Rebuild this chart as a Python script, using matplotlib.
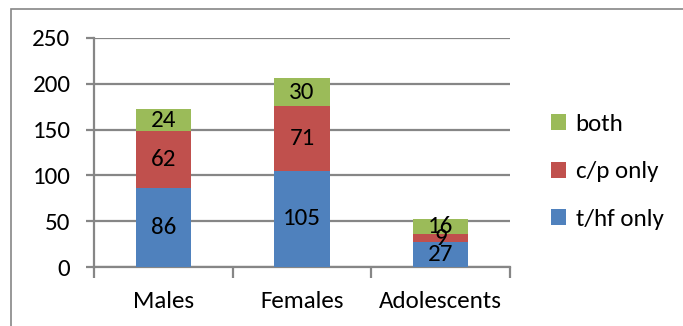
import matplotlib
matplotlib.use("Agg")
import matplotlib.pyplot as plt
from matplotlib.font_manager import fontManager
import numpy as np

categories = ["Males", "Females", "Adolescents"]
series_names = ["t/hf only", "c/p only", "both"]
thf_only = [86, 105, 27]
cp_only = [62, 71, 9]
both = [24, 30, 16]
y_ticks = [0, 50, 100, 150, 200, 250]

colors = ["#4F81BD", "#C0504D", "#9BBB59"]
grid_color = "#868686"
fs = 18

names = {f.name for f in fontManager.ttflist}
family = [f for f in ["Carlito", "Liberation Sans Narrow", "Liberation Sans", "DejaVu Sans"] if f in names]
plt.rcParams["font.family"] = family

W, H = 683, 326
fig = plt.figure(figsize=(W / 100, H / 100), dpi=100)
ax = fig.add_axes([94 / W, 1 - 267 / H, (510 - 94) / W, (267 - 38) / H])

x = np.arange(len(categories))
bottom = np.zeros(len(categories))
for vals, name, col in zip([thf_only, cp_only, both], series_names, colors):
    vals = np.array(vals, dtype=float)
    ax.bar(x, vals, width=0.4, bottom=bottom, color=col, label=name, zorder=3)
    for xi, b, v in zip(x, bottom, vals):
        ax.text(xi, b + v / 2, f"{int(v)}", ha="center", va="center",
                fontsize=fs, color="black", zorder=4)
    bottom += vals

ax.set_xlim(-0.5, len(categories) - 0.5)
ax.set_ylim(0, 250)
ax.set_yticks(y_ticks)
ax.yaxis.grid(True, color=grid_color, linewidth=1.6, zorder=0)
for s in ["top", "right"]:
    ax.spines[s].set_visible(False)
for s in ["left", "bottom"]:
    ax.spines[s].set_color(grid_color)
    ax.spines[s].set_linewidth(1.6)
ax.tick_params(axis="y", length=6, width=1.6, color=grid_color, labelsize=fs, pad=11)
ax.set_xticks(x)
ax.set_xticklabels(categories, fontsize=fs)
ax.tick_params(axis="x", length=0, pad=17)
ax.set_xticks(np.arange(len(categories) + 1) - 0.5, minor=True)
ax.tick_params(axis="x", which="minor", length=8, width=1.6, color=grid_color)

handles, labels = ax.get_legend_handles_labels()
fig.legend(handles[::-1], labels[::-1], loc="center left",
           bbox_to_anchor=(538 / W, 1 - 172 / H), frameon=False,
           fontsize=fs, handlelength=0.6, handleheight=0.6,
           handletextpad=0.4, labelspacing=1.05, borderpad=0)

# outer chart frame
fig.patches.append(plt.Rectangle((11 / W, -0.1), 1.2, 1 - 9 / H + 0.1,
                                 transform=fig.transFigure, fill=False,
                                 edgecolor="#868686", linewidth=1.2))

fig.savefig("out.png", dpi=100)
